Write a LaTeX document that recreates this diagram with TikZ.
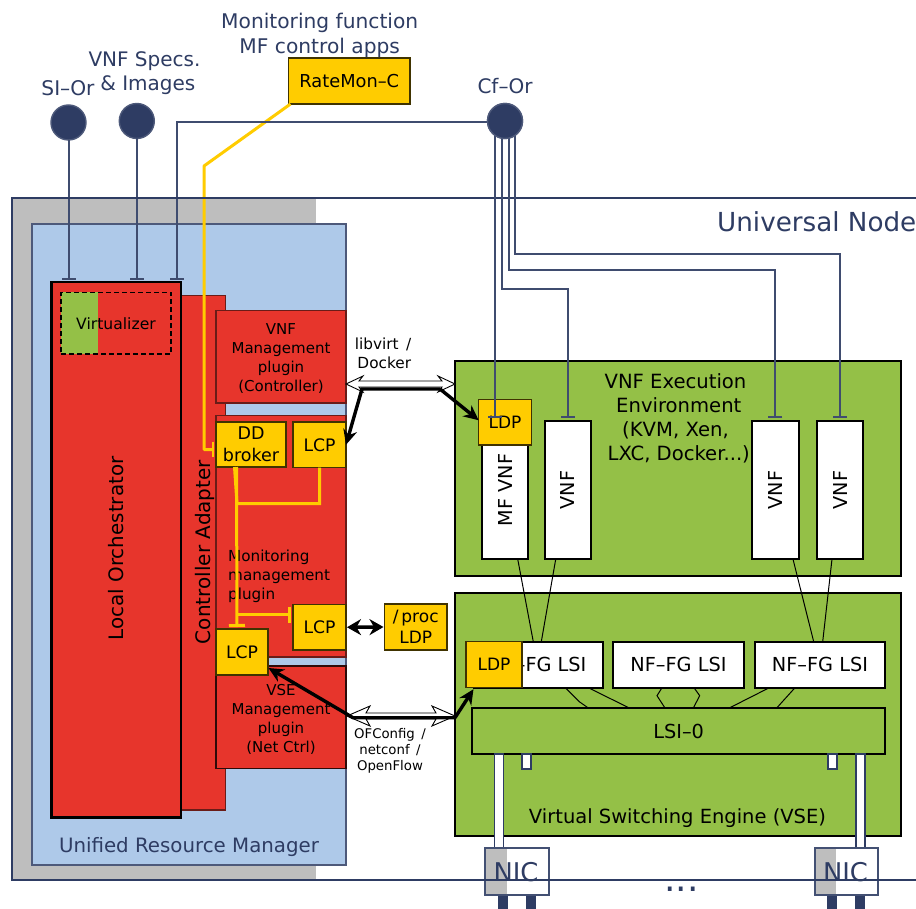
\documentclass[tikz,border=0pt]{standalone}
\usepackage{fontspec}
\setmainfont{DejaVu Sans}
\usetikzlibrary{arrows.meta,calc,shapes.geometric}
\definecolor{nred}{HTML}{E7352C}
\definecolor{ngreen}{HTML}{94C047}
\definecolor{nyel}{HTML}{FFCC00}
\definecolor{nblue}{HTML}{AEC9E9}
\definecolor{ngray}{HTML}{BEBEBE}
\definecolor{navy}{HTML}{2E3C63}
\definecolor{maroon}{HTML}{6A1C18}
\newcommand{\fz}[2]{\fontsize{#1}{#2}\selectfont}
% hollow double arrow between two named points: head length, head half width
\newcommand{\hollowarrow}[4]{%
  \draw[line width=.9pt,fill=white,line join=miter]
    (#1) -- ($(#1)+(#3,-#4)$) -- ($(#1)+(#3-4,-3)$) -- ($(#2)+(-#3+4,-3)$) -- ($(#2)+(-#3,-#4)$)
    -- (#2) -- ($(#2)+(-#3,#4)$) -- ($(#2)+(-#3+4,3)$) -- ($(#1)+(#3-4,3)$) -- ($(#1)+(#3,#4)$) -- cycle;}
\tikzset{
  blk/.style={draw,inner sep=0pt,outer sep=0pt,anchor=north west,align=center},
  redbox/.style={blk,fill=nred,draw=maroon,line width=1.4pt},
  yelbox/.style={blk,fill=nyel,draw=black!75!nyel,line width=1.2pt},
  whitebox/.style={blk,fill=white,draw=black,line width=2pt},
  greenbox/.style={blk,fill=ngreen,draw=black,line width=2pt},
  port/.style={blk,fill=white,draw=navy,line width=1.6pt},
  bar/.style={blk,fill=navy,draw=none},
  hub/.style={circle,fill=navy,draw=navy!85!white,line width=1.4pt,minimum size=35pt,inner sep=0pt,outer sep=0pt},
  lbl/.style={text=navy,inner sep=0pt,align=center},
  txt/.style={text=black,inner sep=0pt,align=center},
  ctl/.style={draw=navy!92!white,line width=2pt,-{Bar[width=14pt,length=1.5pt]},shorten >=2pt},
  mon/.style={draw=nyel,line width=3pt},
  montip/.style={mon,-{Bar[width=16pt,length=2pt]}},
  thin/.style={draw=black,line width=1pt},
  thick/.style={draw=black,line width=3.4pt},
}
\begin{document}
\begin{tikzpicture}[x=1pt,y=-1pt]
\clip (0,0) rectangle (916,909);
\fill[white] (0,0) rectangle (916,909);

% universal node background
\node[blk,draw=none,fill=ngray,minimum width=304.5pt,minimum height=682pt] (un) at (11.5,198) {};
\node[blk,fill=nblue,draw=navy!85!white,line width=2pt,minimum width=314.5pt,minimum height=640.5pt] (urm) at (31.5,224.5) {};
\node[lbl,font=\fz{19.8}{24}] (urmt) at (189,847) {Unified Resource Manager};
\node[lbl,font=\fz{26.2}{31},anchor=west] (unt) at (717,222) {Universal Node};

% controller adapter and orchestrator
\node[redbox,minimum width=44.5pt,minimum height=514.5pt] (ca) at (181,295.5) {};
\node[redbox,draw=black,line width=2.2pt,minimum width=129.5pt,minimum height=535.5pt] (lo) at (51.5,282) {};
\node[blk,draw=none,fill=ngreen,minimum width=37pt,minimum height=61.5pt] (vzg) at (61,292.5) {};
\node[blk,draw=black,dash pattern=on 5pt off 3pt,line width=1.1pt,minimum width=110pt,minimum height=61.5pt,font=\fz{15.6}{19}] (vz) at (61,292.5) {Virtualizer};
\node[txt,rotate=90,font=\fz{19.9}{24}] (lot) at (116,548.5) {Local Orchestrator};
\node[txt,rotate=90,font=\fz{20}{24}] (cat) at (205,552) {Controller Adapter};

% plugins
\node[redbox,minimum width=130pt,minimum height=92.5pt] (vnfm) at (216,310.5) {};
\node[txt,font=\fz{15}{19}] (vnfmt) at (281,359) {VNF\\Management\\plugin\\(Controller)};
\node[redbox,minimum width=130pt,minimum height=241.5pt] (mmp) at (216,415.5) {};
\node[redbox,draw=black!80!nred,minimum width=130pt,minimum height=102.5pt] (vsem) at (216,666) {};
\node[txt,font=\fz{15.2}{19},anchor=west,align=left] (mmpt) at (228,576) {Monitoring\\management\\plugin};
\node[txt,font=\fz{15}{19}] (vsemt) at (281,719) {VSE\\Management\\plugin\\(Net Ctrl)};

% yellow boxes
\node[yelbox,minimum width=121.5pt,minimum height=46pt,font=\fz{17.8}{21}] (rate) at (288.5,58) {RateMon–C};
\node[yelbox,minimum width=70pt,minimum height=45pt,font=\fz{17.5}{22}] (dd) at (216,422) {DD\\broker};
\node[yelbox,minimum width=53pt,minimum height=45.5pt,font=\fz{17.2}{21}] (lcpa) at (293,422) {LCP};
\node[yelbox,minimum width=53pt,minimum height=45.5pt,font=\fz{17.2}{21}] (lcpb) at (293,604.5) {LCP};
\node[yelbox,minimum width=52pt,minimum height=46pt,font=\fz{17.2}{21}] (lcpc) at (216,629) {LCP};
\node[yelbox,minimum width=62.5pt,minimum height=46pt,font=\fz{17}{21}] (proc) at (384.5,604) {/\,proc\\LDP};

% monitoring connectors
\coordinate (ddout) at ($(dd.south west)+(18.5,0)$);
\coordinate (ddjoin) at ($(dd.south west)+(21,36.5)$);
\coordinate (ddin) at ($(lcpc.north west)+(21,-2)$);
\coordinate (ddmid) at ($(lcpb.west)+(-56,-12.5)$);
\draw[mon,line join=round] (rate.south west)++(2,0) -- (204,166) -- (204,449.5) -- (213,449.5);
\draw[mon,line width=1.5pt] (213,441.5) -- (213,457);
\draw[montip] ($(ddout)+(2,0)$) -- (ddin);
\draw[mon,line join=miter] (lcpa.south) -- (lcpa.south |- ddjoin) -- (ddjoin) -- (ddout);
\draw[montip] (ddmid) -- ($(lcpb.west)+(-2,-12.5)$);

% outer connectors from hubs
\node[hub] (si) at (68.5,122.5) {};
\node[hub] (vs) at (136.8,121) {};
\node[hub] (cf) at (505,121) {};
\node[lbl,font=\fz{20.2}{24}] (silab) at (68,88) {SI–Or};
\node[lbl,font=\fz{20}{24.5}] (vslab) at (144.5,73) {VNF Specs.\\\,\,\& Images};
\node[lbl,font=\fz{20}{24}] (cflab) at (505,86) {Cf–Or};
\node[lbl,font=\fz{20.2}{24.5}] (mflab) at (319.7,35.5) {Monitoring function\\MF control apps};
\draw[ctl] (si) -- (si |- lo.north);
\draw[ctl] (vs) -- (vs |- lo.north);
\coordinate (cfw) at (176.5,122.5);
\draw[ctl,line join=miter] (cf.west |- cfw) -- (cfw) -- (cfw |- lo.north);

% execution environment
\node[greenbox,minimum width=446pt,minimum height=214.5pt] (vee) at (455,361.5) {};
\node[txt,font=\fz{19.6}{24}] (veet) at (675.5,418.5) {VNF Execution\\\,\,Environment\\(KVM, Xen,\\\,\,LXC, Docker...)};
\node[whitebox,minimum width=46pt,minimum height=115pt] (mf) at (482,444) {};
\node[yelbox,minimum width=52.5pt,minimum height=45.5pt,font=\fz{17}{21}] (ldpa) at (478.7,399.5) {LDP};
\node[whitebox,minimum width=46.5pt,minimum height=138pt] (v1) at (544.5,421) {};
\node[whitebox,minimum width=46.5pt,minimum height=138pt] (v2) at (752,421) {};
\node[whitebox,minimum width=46pt,minimum height=138pt] (v3) at (817,421) {};
\node[txt,rotate=90,font=\fz{19.2}{24}] (mft) at (505,490) {MF VNF};
\node[txt,rotate=90,font=\fz{19.2}{24}] (v1t) at (567.5,490) {VNF};
\node[txt,rotate=90,font=\fz{19.2}{24}] (v2t) at (775,490) {VNF};
\node[txt,rotate=90,font=\fz{19.2}{24}] (v3t) at (840,490) {VNF};

% switching engine
\node[greenbox,minimum width=446pt,minimum height=243pt] (vse) at (455,592.5) {};
\node[txt,font=\fz{19.5}{24}] (vset) at (677.5,818) {Virtual Switching Engine (VSE)};
\node[whitebox,minimum width=128.7pt,minimum height=46pt,font=\fz{19.3}{22}] (l1) at (474,641.7) {NF–FG LSI};
\node[yelbox,minimum width=56pt,minimum height=46pt,font=\fz{17}{21}] (ldpb) at (466,641.7) {LDP};
\node[whitebox,minimum width=130.5pt,minimum height=46pt,font=\fz{19.3}{22}] (l2) at (613.2,641.7) {NF–FG LSI};
\node[whitebox,minimum width=130.5pt,minimum height=46pt,font=\fz{19.3}{22}] (l3) at (754.7,641.7) {NF–FG LSI};
\node[greenbox,minimum width=413.3pt,minimum height=46pt,font=\fz{19.3}{22}] (lsi) at (472,708) {LSI–0};

% thin links
\draw[thin] (mf.south) ++(12.7,0) -- ($(l1.north west)+(59.3,0)$);
\draw[thin] ($(v1.south)+(-12,0)$) -- ($(l1.north west)+(67.3,0)$);
\draw[thin] ($(v2.south)+(17.7,0)$) -- ($(l3.north west)+(59,0)$);
\draw[thin] ($(v3.south)+(-8,0)$) -- ($(l3.north west)+(68,0)$);
\draw[thin] ($(l1.south west)+(91.3,0)$) -- (579.3,701.7) -- ($(lsi.north west)+(116.3,0)$);
\draw[thin] ($(l1.south west)+(114.3,0)$) -- ($(lsi.north west)+(157.3,0)$);
\draw[thin] ($(l2.south west)+(48.8,0)$) -- (657,695.7) -- ($(lsi.north west)+(193,0)$);
\draw[thin] ($(l2.south west)+(80.8,0)$) -- (699.7,695.7) -- ($(lsi.north west)+(221.3,0)$);
\draw[thin] ($(l3.south west)+(14.6,0)$) -- ($(lsi.north west)+(257.3,0)$);
\draw[thin] ($(l3.south west)+(40.3,0)$) -- ($(lsi.north west)+(304.7,0)$);

% ports and NICs
\node[port,minimum width=9pt,minimum height=14.7pt] (p1) at (522,754) {};
\node[port,minimum width=9pt,minimum height=14.7pt] (p2) at (827.7,754) {};
\node[port,minimum width=9pt,minimum height=94.3pt] (p3) at (494.3,754) {};
\node[port,minimum width=9pt,minimum height=94.3pt] (p4) at (855.7,754) {};
\node[bar,minimum width=10pt,minimum height=16pt] (b1) at (497.7,894) {};
\node[bar,minimum width=10pt,minimum height=16pt] (b2) at (526,894) {};
\node[bar,minimum width=10pt,minimum height=16pt] (b3) at (827.3,894) {};
\node[bar,minimum width=10pt,minimum height=16pt] (b4) at (855.3,894) {};
\node[blk,fill=white,draw=navy!90!white,line width=1.8pt,minimum width=63.4pt,minimum height=46.7pt] (n1) at (485.3,848.3) {};
\node[blk,fill=white,draw=navy!90!white,line width=1.8pt,minimum width=63.3pt,minimum height=46.7pt] (n2) at (815,848.3) {};
\node[blk,draw=none,fill=ngray,minimum width=21pt,minimum height=45pt] (n1g) at (486.2,849.2) {};
\node[blk,draw=none,fill=ngray,minimum width=20.5pt,minimum height=45pt] (n2g) at (815.9,849.2) {};

% universal node frame
\draw[navy,line width=2pt] (916,198) -- (11.5,198) -- (11.5,880.4) -- (916,880.4);
\node[lbl,font=\fz{25.8}{30}] (n1t) at (516,872) {NIC};
\node[lbl,font=\fz{25.8}{30}] (n2t) at (845.5,872) {NIC};
\node[lbl,font=\fz{36}{40},anchor=base] (dots) at (681.5,891) {...};

% control lines from Cf-Or
\coordinate (c1) at (494.5,132);
\coordinate (c2) at (501.5,136);
\coordinate (c3) at (508.5,137);
\coordinate (c4) at (515,135);
\coordinate (c2y) at (0,289.5);
\coordinate (c3y) at (0,270.5);
\coordinate (c4y) at (0,254.5);
\coordinate (ldptop) at (494.5,421);
\draw[ctl,shorten >=3pt] (c1) -- (ldptop);
\draw[ctl,shorten >=3pt,line join=miter] (c2) -- (c2 |- c2y) -- (v1.north |- c2y) -- (v1.north);
\draw[ctl,shorten >=3pt,line join=miter] (c3) -- (c3 |- c3y) -- (v2.north |- c3y) -- (v2.north);
\draw[ctl,shorten >=3pt,line join=miter] (c4) -- (c4 |- c4y) -- (v3.north |- c4y) -- (v3.north);
\node[hub] at (cf) {};

% protocol arrows
\coordinate (libL) at ($(vnfm.north east)+(0,73.5)$);
\coordinate (libR) at (vee.west |- libL);
\hollowarrow{libL}{libR}{17}{8}
\coordinate (ofL) at ($(vsem.north east)+(1,50)$);
\coordinate (ofR) at (vse.west |- ofL);
\hollowarrow{ofL}{ofR}{23}{10}
\node[txt,font=\fz{15.3}{19}] (libt) at (383,353.5) {libvirt\, /\\\,Docker};
\node[txt,font=\fz{13.3}{16.3}] (oft) at (390,751) {OFConfig\, /\\netconf\, /\\OpenFlow};

\coordinate (ta) at (362,389);
\coordinate (tb) at (440,389);
\draw[thick,line join=miter,-{Stealth[length=15pt,width=14pt]}] (tb) -- (ta) -- (lcpa.east);
\draw[thick,-{Stealth[length=15pt,width=14pt]}] (tb) -- ($(ldpa.west)+(0,-2)$);
\coordinate (sa) at (353,717.7);
\coordinate (sb) at (455,717.7);
\draw[thick,line join=miter,-{Stealth[length=15pt,width=14pt]}] (sb) -- (sa) -- ($(lcpc.south east)+(0.5,-7)$);
\draw[thick,-{Stealth[length=15pt,width=14pt]}] (sb) -- ($(ldpb.south west)+(7.5,1.5)$);
\draw[thick,{Stealth[length=14pt,width=16pt]}-{Stealth[length=14pt,width=16pt]}] ($(lcpb.east)+(1,0)$) -- ($(proc.west)+(-1,0)$);
\end{tikzpicture}
\end{document}
